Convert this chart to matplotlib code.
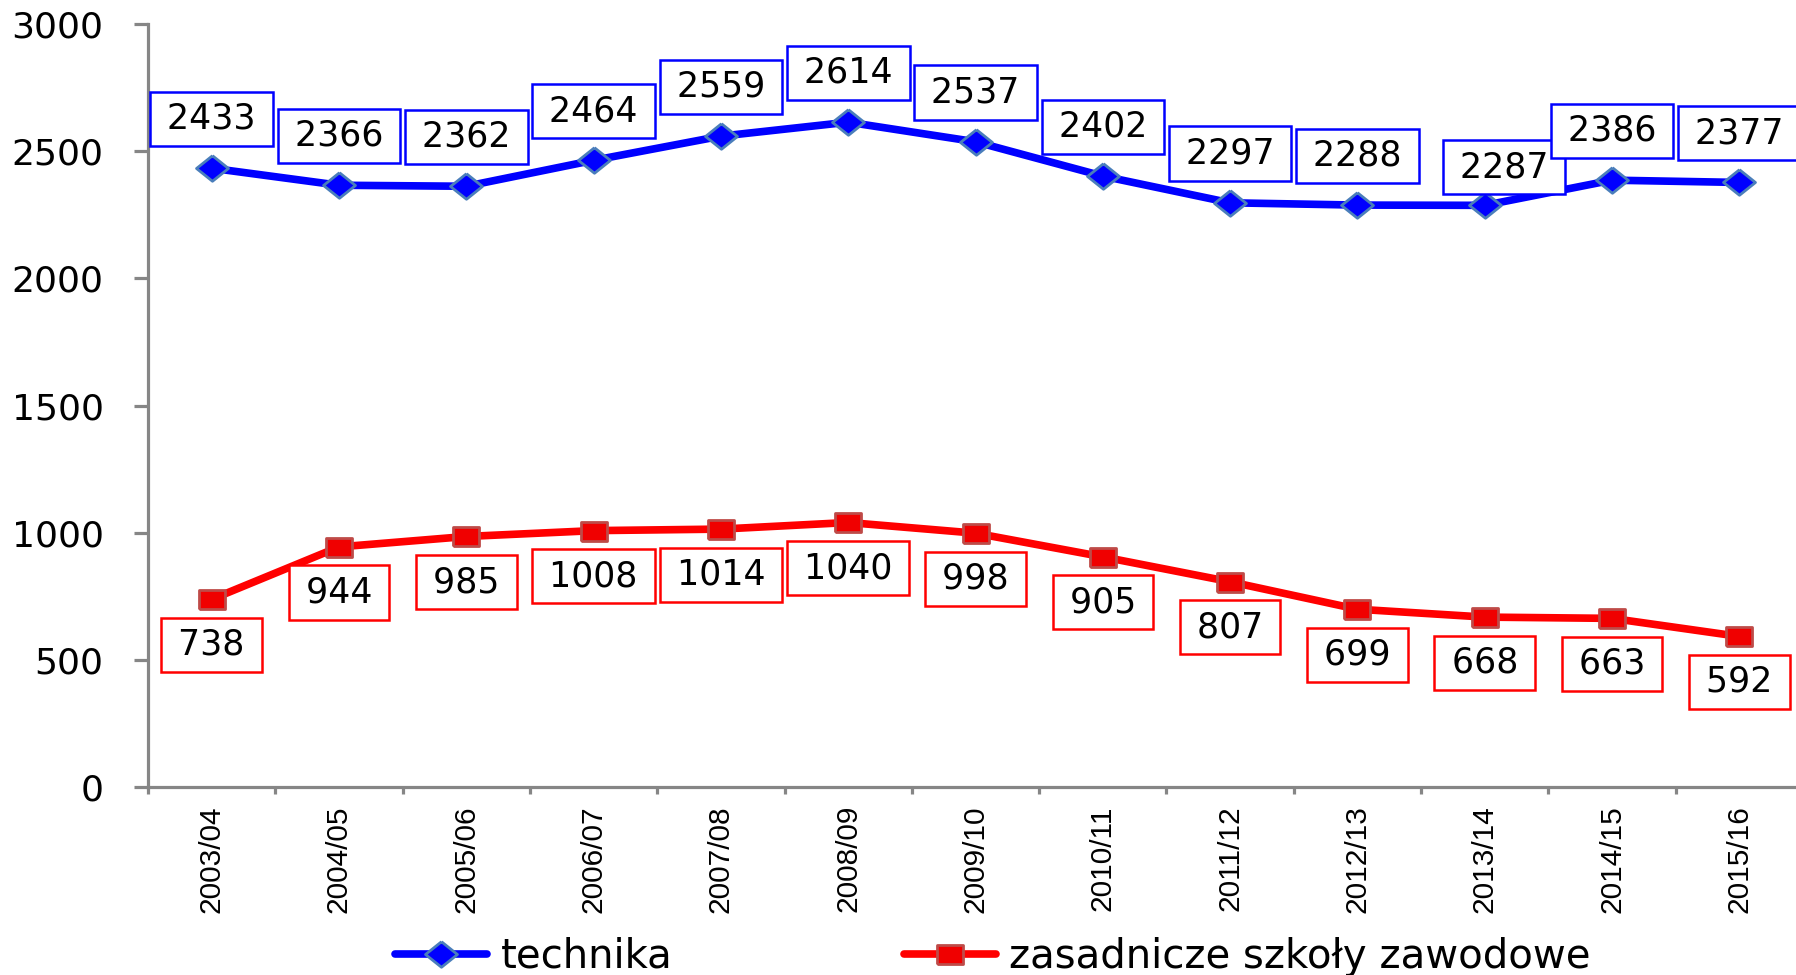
import matplotlib
matplotlib.use("Agg")
import matplotlib.pyplot as plt
from matplotlib.ticker import FixedLocator

# data
years = ["2003/04", "2004/05", "2005/06", "2006/07", "2007/08", "2008/09", "2009/10",
         "2010/11", "2011/12", "2012/13", "2013/14", "2014/15", "2015/16"]
technika = [2433, 2366, 2362, 2464, 2559, 2614, 2537, 2402, 2297, 2288, 2287, 2386, 2377]
zsz = [738, 944, 985, 1008, 1014, 1040, 998, 905, 807, 699, 668, 663, 592]

# label offsets in points (one label was moved by hand in the original)
blue_offset = (0, 35.5)
red_offset = (0, -32.8)
blue_special = {10: (14, 27.5)}

diamond = [(0, 0.4), (0.5, 0), (0, -0.4), (-0.5, 0), (0, 0.4)]
rect = [(-0.5, -0.36), (0.5, -0.36), (0.5, 0.36), (-0.5, 0.36), (-0.5, -0.36)]

plt.rcParams['font.family'] = ['DejaVu Sans']

fig = plt.figure(figsize=(17.96, 9.75), dpi=100)
ax = fig.add_axes([148 / 1796, 188 / 975, 1655 / 1796, 763 / 975])

x = list(range(len(years)))
ax.plot(x, technika, color='#0000ff', lw=5.5, marker=diamond, ms=23,
        mfc='#0000ff', mec='#4a7ebb', mew=2, solid_capstyle='round',
        solid_joinstyle='round', label='technika', zorder=3)
ax.plot(x, zsz, color='#ff0000', lw=5.5, marker=rect, ms=19,
        mfc='#f00000', mec='#be4b48', mew=2, solid_capstyle='round',
        solid_joinstyle='round', label='zasadnicze szkoły zawodowe', zorder=3)

for i, v in enumerate(technika):
    off = blue_special.get(i, blue_offset)
    ax.annotate("\u2009%d\u2009" % v, (i, v), xytext=off, textcoords='offset points',
                ha='center', va='center', fontsize=25, color='black', zorder=5,
                bbox=dict(boxstyle='square,pad=0.29', fc='white', ec='#0000ff', lw=1.8))
for i, v in enumerate(zsz):
    ax.annotate("\u2009%d\u2009" % v, (i, v), xytext=red_offset, textcoords='offset points',
                ha='center', va='center', fontsize=25, color='black', zorder=5,
                bbox=dict(boxstyle='square,pad=0.29', fc='white', ec='#ff0000', lw=1.8))

ax.set_xlim(-0.5, len(years) - 0.5)
ax.set_ylim(0, 3000)
ax.set_yticks(range(0, 3001, 500))

ax.set_xticks(x)
ax.set_xticklabels(years, rotation=90, fontsize=21.5, stretch='condensed',
                   family=['Liberation Sans Narrow', 'DejaVu Sans Condensed', 'Liberation Sans'])
ax.xaxis.set_minor_locator(FixedLocator([i - 0.5 for i in range(len(years) + 1)]))
ax.tick_params(axis='x', which='major', length=0, pad=13)
ax.tick_params(axis='x', which='minor', length=5, width=2.3, color='#868686')
ax.tick_params(axis='y', length=10, width=2.3, color='#868686', pad=22, labelsize=26)

for s in ['top', 'right']:
    ax.spines[s].set_visible(False)
for s in ['left', 'bottom']:
    ax.spines[s].set_color('#868686')
    ax.spines[s].set_linewidth(2.3)

fig.legend(loc='center left', bbox_to_anchor=(395 / 1796, 1 - 957 / 975),
           ncol=2, frameon=False, fontsize=29, handlelength=2.28,
           handletextpad=0.34, columnspacing=5.75, borderpad=0, borderaxespad=0,
           numpoints=1)

fig.savefig("out.png", dpi=100)
